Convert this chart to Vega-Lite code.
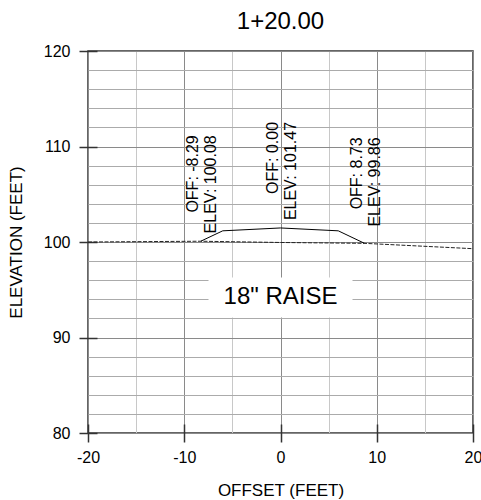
{
  "$schema": "https://vega.github.io/schema/vega-lite/v6.json",
  "autosize": {"type": "none"},
  "padding": {"left": 88, "top": 51, "right": 8, "bottom": 67},
  "width": 385,
  "height": 382,
  "background": "white",
  "title": {"text": "1+20.00", "fontSize": 24, "font": "Liberation Sans", "fontWeight": "normal", "color": "black", "frame": "group", "anchor": "middle", "baseline": "alphabetic", "offset": -10},
  "config": {
    "view": {"stroke": "#333", "strokeWidth": 1.5},
    "font": "Liberation Sans",
    "axis": {"labelFont": "Liberation Sans", "titleFont": "Liberation Sans", "labelColor": "black", "titleColor": "black", "labelFontSize": 16, "titleFontSize": 16, "titleFontWeight": "normal", "domain": false, "gridOpacity": 1, "gridWidth": 1}
  },
  "datasets": {
    "existing": [
      {"offset": -20, "elev": 100.0},
      {"offset": -8.29, "elev": 100.08},
      {"offset": 0, "elev": 99.95},
      {"offset": 8.73, "elev": 99.86},
      {"offset": 20, "elev": 99.3}
    ],
    "proposed": [
      {"offset": -8.29, "elev": 100.08},
      {"offset": -6, "elev": 101.17},
      {"offset": 0, "elev": 101.47},
      {"offset": 6, "elev": 101.17},
      {"offset": 8.73, "elev": 99.86}
    ],
    "labels": [
      {"offset": -8.29, "elev": 100.08, "label": "OFF: -8.29\nELEV: 100.08"},
      {"offset": 0, "elev": 101.47, "label": "OFF: 0.00\nELEV: 101.47"},
      {"offset": 8.73, "elev": 99.86, "label": "OFF: 8.73\nELEV: 99.86"}
    ],
    "note": [
      {"offset": 0, "elev": 94.2, "label": "18\" RAISE"}
    ]
  },
  "encoding": {
    "x": {
      "field": "offset", "type": "quantitative",
      "scale": {"domain": [-20, 20], "nice": false, "zero": false},
      "axis": {
        "title": "OFFSET (FEET)",
        "values": [-20, -15, -10, -5, 0, 5, 10, 15, 20],
        "labelExpr": "datum.value % 10 === 0 ? '' + datum.value : ''",
        "offset": -9,
        "tickSize": 18,
        "tickWidth": 1.5,
        "tickColor": "#333",
        "tickOpacity": {"condition": {"test": "datum.value % 10 !== 0", "value": 0}, "value": 1},
        "gridColor": {"condition": {"test": "datum.value % 10 === 0", "value": "#8a8a8a"}, "value": "#c8c8c8"},
        "labelPadding": 7,
        "labelFlush": false,
        "labelOverlap": false,
        "titleFontSize": 17,
        "titleX": 192.5,
        "titleY": 66,
        "titleBaseline": "middle",
        "titleAnchor": "middle"
      }
    },
    "y": {
      "field": "elev", "type": "quantitative",
      "scale": {"domain": [80, 120], "nice": false, "zero": false},
      "axis": {
        "title": "ELEVATION (FEET)",
        "values": [80, 82, 84, 86, 88, 90, 92, 94, 96, 98, 100, 102, 104, 106, 108, 110, 112, 114, 116, 118, 120],
        "labelExpr": "datum.value % 10 === 0 ? '' + datum.value : ''",
        "offset": -9,
        "tickSize": 18,
        "tickWidth": 1.5,
        "tickColor": "#333",
        "tickOpacity": {"condition": {"test": "datum.value % 10 !== 0", "value": 0}, "value": 1},
        "gridColor": {"condition": {"test": "datum.value % 10 === 0", "value": "#8a8a8a"}, "value": "#ababab"},
        "labelPadding": 9,
        "labelFlush": false,
        "labelOverlap": false,
        "titleFontSize": 17,
        "titleX": -81,
        "titleY": 191,
        "titleAngle": 270,
        "titleBaseline": "middle",
        "titleAnchor": "middle"
      }
    }
  },
  "layer": [
    {
      "data": {"name": "note"},
      "mark": {"type": "rect", "fill": "white", "width": 144, "height": 40}
    },
    {
      "data": {"name": "existing"},
      "mark": {"type": "line", "color": "#222", "strokeWidth": 1, "strokeDash": [4, 1.5]}
    },
    {
      "data": {"name": "proposed"},
      "mark": {"type": "line", "color": "black", "strokeWidth": 1}
    },
    {
      "data": {"name": "labels"},
      "mark": {"type": "text", "angle": 270, "align": "right", "baseline": "middle", "dx": 106, "dy": -8, "fontSize": 16, "lineHeight": 18, "lineBreak": "\n", "color": "black", "font": "Liberation Sans"},
      "encoding": {"text": {"field": "label", "type": "nominal"}}
    },
    {
      "data": {"name": "note"},
      "mark": {"type": "text", "fontSize": 24, "align": "center", "baseline": "middle", "color": "black", "font": "Liberation Sans"},
      "encoding": {"text": {"field": "label", "type": "nominal"}}
    }
  ]
}
